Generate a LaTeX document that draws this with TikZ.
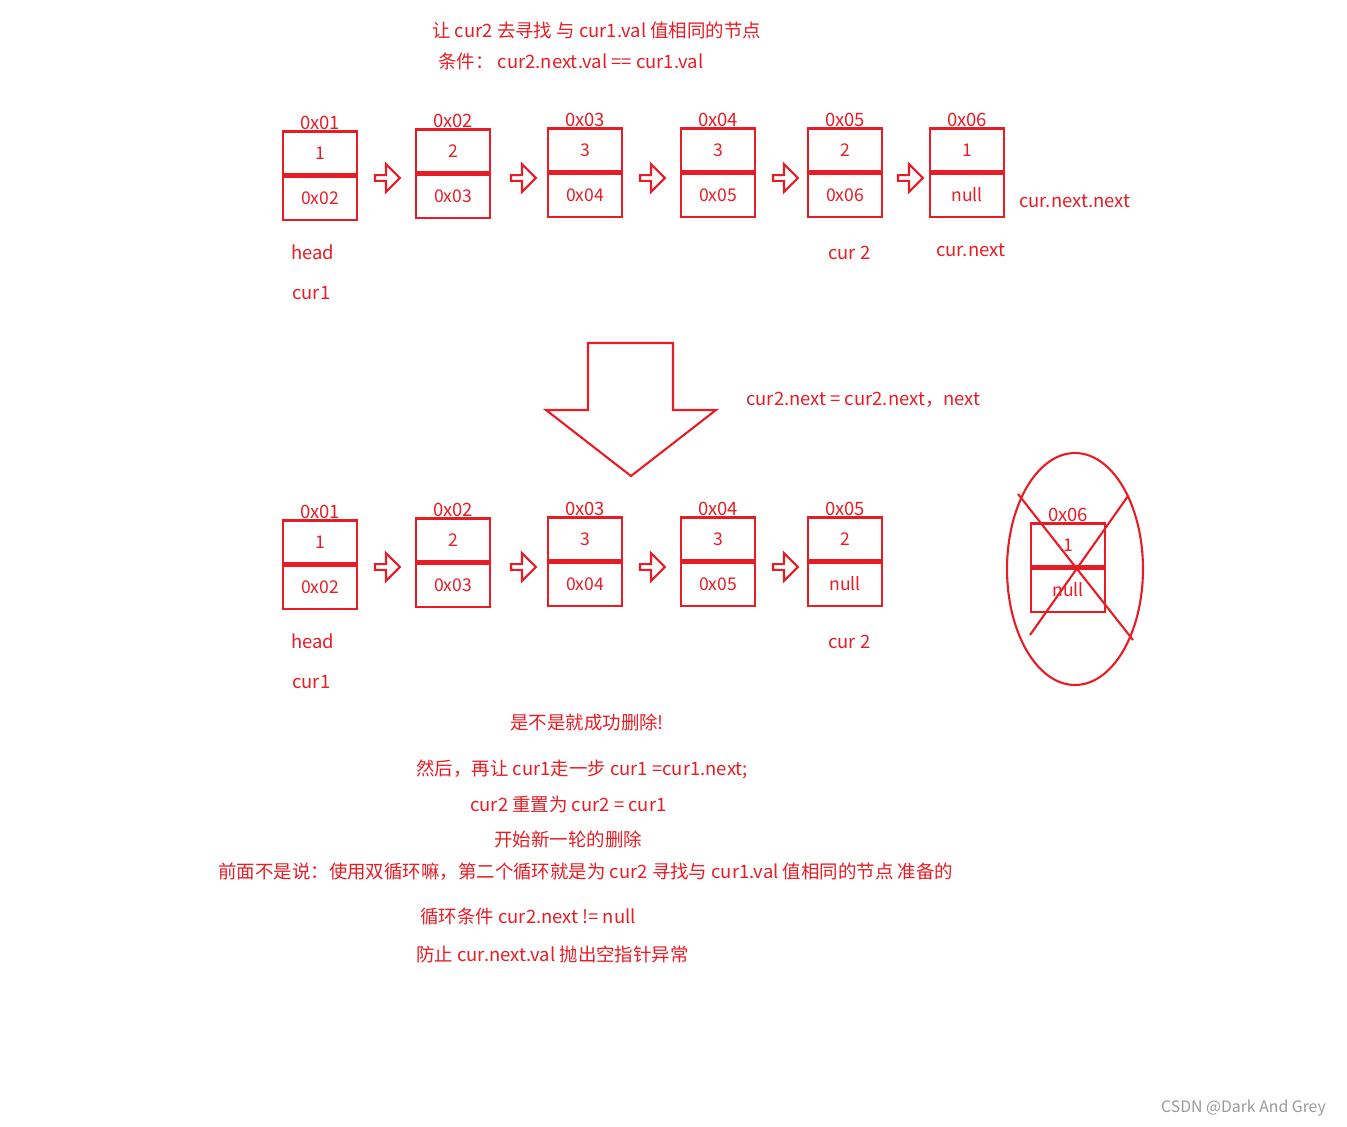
\documentclass[tikz,border=0pt]{standalone}
\usepackage{fontspec}
\setmainfont{Noto Sans CJK SC}
\usetikzlibrary{shapes.arrows,shapes.geometric}
\definecolor{pen}{RGB}{232,28,36}
\tikzstyle{half}=[draw=pen, line width=1.2pt, minimum width=1.48cm, minimum height=0.86cm, inner sep=0pt, text=pen]
\tikzstyle{step arrow}=[single arrow, draw=pen, line width=1.2pt, minimum height=0.5cm, minimum width=0.56cm, single arrow head extend=0.08cm, inner sep=0pt]
\tikzstyle{label}=[text=pen, font=\fontsize{10.5}{12}\selectfont, inner sep=0pt, anchor=west]

\begin{document}
\begin{tikzpicture}[x=0.02cm, y=-0.02cm]
    \useasboundingbox (0,0) rectangle (1347,1127);
    % title lines
    \node[label] (t1) at (432,30) {让 cur2 去寻找 与 cur1.val 值相同的节点};
    \node[label] (t2) at (438,61) {条件： cur2.next.val == cur1.val};
    % first list
    \foreach \x/\y/\n/\addr/\val/\nxt in {320/153/a1/0x01/1/0x02, 453/151/a2/0x02/2/0x03, 585/150/a3/0x03/3/0x04, 718/150/a4/0x04/3/0x05, 845/150/a5/0x05/2/0x06, 967/150/a6/0x06/1/null}
    {
        \node[half] (\n t) at (\x,\y) {\val};
        \node[half, anchor=north] (\n b) at (\n t.south) {\nxt};
        \node[label, anchor=south] (\n a) at (\n t.north) {\addr};
    }
    \foreach \x/\n in {386/p1, 522/p2, 651/p3, 784/p4, 909/p5}
        \node[step arrow] (\n) at (\x,178) {};
    \node[label] (h1) at (291,252) {head};
    \node[label] (c1) at (292,293) {cur1};
    \node[label] (c2) at (828,253) {cur 2};
    \node[label] (cn) at (936,250) {cur.next};
    \node[label] (cnn) at (1019,201) {cur.next.next};
    % big arrow
    \draw[pen, line width=1.2pt] (588,343) -- (673,343) -- (673,410) -- (716,410) -- (631,476) -- (546,410) -- (588,410) -- cycle;
    \node[label] (op) at (746,400) {cur2.next = cur2.next，next};
    % second list
    \foreach \x/\y/\n/\addr/\val/\nxt in {320/542/b1/0x01/1/0x02, 453/540/b2/0x02/2/0x03, 585/539/b3/0x03/3/0x04, 718/539/b4/0x04/3/0x05, 845/539/b5/0x05/2/null}
    {
        \node[half] (\n t) at (\x,\y) {\val};
        \node[half, anchor=north] (\n b) at (\n t.south) {\nxt};
        \node[label, anchor=south] (\n a) at (\n t.north) {\addr};
    }
    \foreach \x/\n in {386/q1, 522/q2, 651/q3, 784/q4}
        \node[step arrow] (\n) at (\x,567) {};
    \node[label] (h2) at (291,641) {head};
    \node[label] (d1) at (292,682) {cur1};
    \node[label] (d2) at (828,642) {cur 2};
    % removed node
    \node[half] (xt) at (1068,545) {1};
    \node[half, anchor=north] (xb) at (xt.south) {null};
    \node[label, anchor=south] (xa) at (xt.north) {0x06};
    \node[ellipse, draw=pen, line width=1.2pt, minimum width=2.72cm, minimum height=4.64cm] (ring) at (1075,569) {};
    \draw[pen, line width=1.2pt] (1018,494) -- (1133,640);
    \draw[pen, line width=1.2pt] (1128,496) -- (1030,635);
    % notes
    \node[label] (n1) at (510,722) {是不是就成功删除!};
    \node[label] (n2) at (416,769) {然后，再让 cur1走一步 cur1 =cur1.next;};
    \node[label] (n3) at (470,804) {cur2 重置为 cur2 = cur1};
    \node[label] (n4) at (494,839) {开始新一轮的删除};
    \node[label] (n5) at (218,872) {前面不是说：使用双循环嘛，第二个循环就是为 cur2 寻找与 cur1.val 值相同的节点  准备的};
    \node[label] (n6) at (420,917) {循环条件 cur2.next  !=   null};
    \node[label] (n7) at (416,954) {防止 cur.next.val 抛出空指针异常};
    \node[text=black!40, font=\fontsize{9}{11}\selectfont, anchor=east] (wm) at (1332,1108) {CSDN @Dark And Grey};
\end{tikzpicture}
\end{document}
